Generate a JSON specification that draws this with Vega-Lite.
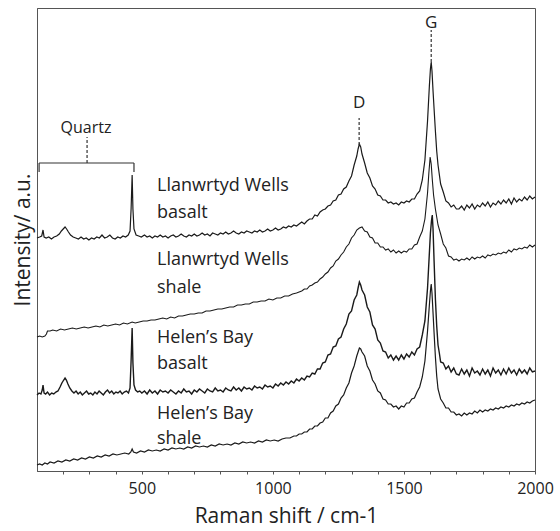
{
"$schema": "https://vega.github.io/schema/vega-lite/v6.json",
"width": 498, "height": 463,
"autosize": {"type": "none"},
"padding": {"left": 37, "top": 8, "right": 25, "bottom": 60},
"background": "white",
"config": {"view": {"stroke": "#555", "strokeWidth": 1}, "font": "Open Sans"},
"datasets": {
"lwb": [
{"x":100,"y":233},{"x":110,"y":234},{"x":118,"y":235},{"x":123,"y":241},{"x":127,"y":234},{"x":135,"y":233},{"x":145,"y":234},{"x":155,"y":232},{"x":165,"y":234},{"x":175,"y":235},{"x":185,"y":237},{"x":193,"y":240},{"x":200,"y":242},{"x":207,"y":244},{"x":213,"y":242},{"x":220,"y":239},{"x":228,"y":236},{"x":238,"y":234},{"x":248,"y":233},{"x":258,"y":232},{"x":268,"y":234},{"x":278,"y":232},{"x":288,"y":233},{"x":298,"y":231},{"x":308,"y":233},{"x":318,"y":232},{"x":328,"y":234},{"x":338,"y":233},{"x":348,"y":236},{"x":358,"y":233},{"x":368,"y":234},{"x":378,"y":236},{"x":388,"y":233},{"x":398,"y":232},{"x":408,"y":234},{"x":418,"y":233},{"x":428,"y":235},{"x":438,"y":234},{"x":448,"y":236},{"x":455,"y":240},{"x":459,"y":262},{"x":463,"y":296},{"x":466,"y":262},{"x":470,"y":242},{"x":478,"y":236},{"x":488,"y":235},{"x":498,"y":234},{"x":510,"y":236},{"x":520,"y":234},{"x":530,"y":235},{"x":540,"y":233},{"x":550,"y":235},{"x":560,"y":234},{"x":570,"y":236},{"x":580,"y":234},{"x":590,"y":235},{"x":600,"y":233},{"x":610,"y":235},{"x":620,"y":236},{"x":630,"y":234},{"x":640,"y":235},{"x":650,"y":237},{"x":660,"y":235},{"x":670,"y":234},{"x":680,"y":236},{"x":690,"y":235},{"x":700,"y":237},{"x":710,"y":235},{"x":720,"y":236},{"x":730,"y":238},{"x":740,"y":236},{"x":750,"y":237},{"x":760,"y":235},{"x":770,"y":238},{"x":780,"y":237},{"x":790,"y":236},{"x":800,"y":238},{"x":810,"y":237},{"x":820,"y":239},{"x":830,"y":237},{"x":840,"y":238},{"x":850,"y":240},{"x":860,"y":238},{"x":870,"y":237},{"x":880,"y":239},{"x":890,"y":238},{"x":900,"y":240},{"x":910,"y":239},{"x":920,"y":238},{"x":930,"y":240},{"x":940,"y":239},{"x":950,"y":241},{"x":960,"y":239},{"x":970,"y":240},{"x":980,"y":242},{"x":990,"y":240},{"x":1000,"y":241},{"x":1010,"y":243},{"x":1020,"y":241},{"x":1030,"y":242},{"x":1040,"y":244},{"x":1050,"y":243},{"x":1060,"y":245},{"x":1070,"y":244},{"x":1080,"y":246},{"x":1090,"y":245},{"x":1100,"y":247},{"x":1110,"y":249},{"x":1120,"y":247},{"x":1130,"y":250},{"x":1140,"y":252},{"x":1150,"y":252},{"x":1160,"y":256},{"x":1170,"y":255},{"x":1180,"y":259},{"x":1190,"y":261},{"x":1200,"y":262},{"x":1210,"y":265},{"x":1220,"y":266},{"x":1230,"y":270},{"x":1240,"y":271},{"x":1250,"y":276},{"x":1260,"y":277},{"x":1270,"y":282},{"x":1280,"y":284},{"x":1290,"y":290},{"x":1300,"y":295},{"x":1310,"y":306},{"x":1320,"y":315},{"x":1325,"y":322},{"x":1330,"y":327},{"x":1335,"y":324},{"x":1340,"y":317},{"x":1350,"y":308},{"x":1360,"y":298},{"x":1370,"y":293},{"x":1380,"y":285},{"x":1390,"y":282},{"x":1400,"y":276},{"x":1410,"y":275},{"x":1420,"y":271},{"x":1430,"y":271},{"x":1440,"y":268},{"x":1450,"y":269},{"x":1460,"y":267},{"x":1470,"y":268},{"x":1480,"y":266},{"x":1490,"y":269},{"x":1500,"y":268},{"x":1510,"y":270},{"x":1520,"y":269},{"x":1530,"y":272},{"x":1540,"y":272},{"x":1550,"y":277},{"x":1560,"y":280},{"x":1570,"y":291},{"x":1580,"y":311},{"x":1590,"y":350},{"x":1597,"y":385},{"x":1601,"y":402},{"x":1604,"y":409},{"x":1607,"y":400},{"x":1611,"y":380},{"x":1615,"y":362},{"x":1620,"y":340},{"x":1625,"y":320},{"x":1630,"y":306},{"x":1640,"y":287},{"x":1650,"y":279},{"x":1660,"y":270},{"x":1670,"y":268},{"x":1680,"y":264},{"x":1690,"y":266},{"x":1700,"y":262},{"x":1710,"y":262},{"x":1720,"y":265},{"x":1730,"y":261},{"x":1740,"y":266},{"x":1750,"y":263},{"x":1760,"y":267},{"x":1770,"y":262},{"x":1780,"y":266},{"x":1790,"y":264},{"x":1800,"y":268},{"x":1810,"y":265},{"x":1820,"y":269},{"x":1830,"y":264},{"x":1840,"y":268},{"x":1850,"y":266},{"x":1860,"y":270},{"x":1870,"y":267},{"x":1880,"y":271},{"x":1890,"y":268},{"x":1900,"y":272},{"x":1910,"y":267},{"x":1920,"y":273},{"x":1930,"y":269},{"x":1940,"y":272},{"x":1950,"y":270},{"x":1960,"y":274},{"x":1970,"y":271},{"x":1980,"y":275},{"x":1990,"y":272},{"x":2000,"y":274}
],
"lws": [
{"x":100,"y":134},{"x":110,"y":135},{"x":120,"y":134},{"x":130,"y":135},{"x":136,"y":137},{"x":140,"y":140},{"x":150,"y":140},{"x":160,"y":141},{"x":175,"y":140},{"x":190,"y":142},{"x":205,"y":141},{"x":220,"y":142},{"x":235,"y":143},{"x":250,"y":142},{"x":265,"y":143},{"x":280,"y":144},{"x":295,"y":143},{"x":310,"y":144},{"x":325,"y":145},{"x":340,"y":144},{"x":355,"y":146},{"x":370,"y":145},{"x":385,"y":146},{"x":400,"y":147},{"x":415,"y":146},{"x":430,"y":148},{"x":445,"y":147},{"x":463,"y":149},{"x":475,"y":148},{"x":490,"y":149},{"x":505,"y":150},{"x":520,"y":150},{"x":535,"y":151},{"x":550,"y":151},{"x":565,"y":152},{"x":580,"y":153},{"x":595,"y":152},{"x":610,"y":154},{"x":625,"y":153},{"x":640,"y":155},{"x":655,"y":155},{"x":670,"y":156},{"x":685,"y":157},{"x":700,"y":157},{"x":715,"y":158},{"x":730,"y":158},{"x":745,"y":160},{"x":760,"y":160},{"x":775,"y":161},{"x":790,"y":162},{"x":805,"y":162},{"x":820,"y":163},{"x":835,"y":164},{"x":850,"y":164},{"x":865,"y":166},{"x":880,"y":166},{"x":895,"y":167},{"x":910,"y":167},{"x":925,"y":169},{"x":940,"y":169},{"x":955,"y":170},{"x":970,"y":170},{"x":985,"y":172},{"x":1000,"y":171},{"x":1015,"y":173},{"x":1030,"y":173},{"x":1045,"y":175},{"x":1060,"y":175},{"x":1075,"y":177},{"x":1090,"y":178},{"x":1100,"y":179},{"x":1110,"y":180},{"x":1120,"y":182},{"x":1130,"y":182},{"x":1140,"y":185},{"x":1150,"y":186},{"x":1160,"y":188},{"x":1170,"y":189},{"x":1180,"y":192},{"x":1190,"y":194},{"x":1200,"y":197},{"x":1210,"y":199},{"x":1220,"y":203},{"x":1230,"y":205},{"x":1240,"y":210},{"x":1250,"y":212},{"x":1260,"y":216},{"x":1270,"y":219},{"x":1280,"y":224},{"x":1290,"y":227},{"x":1300,"y":233},{"x":1310,"y":236},{"x":1320,"y":241},{"x":1330,"y":243},{"x":1340,"y":244},{"x":1350,"y":240},{"x":1360,"y":239},{"x":1370,"y":234},{"x":1380,"y":233},{"x":1390,"y":228},{"x":1400,"y":228},{"x":1410,"y":224},{"x":1420,"y":224},{"x":1430,"y":221},{"x":1440,"y":222},{"x":1450,"y":219},{"x":1460,"y":221},{"x":1470,"y":218},{"x":1480,"y":220},{"x":1490,"y":218},{"x":1500,"y":220},{"x":1510,"y":219},{"x":1520,"y":222},{"x":1530,"y":222},{"x":1540,"y":226},{"x":1550,"y":227},{"x":1560,"y":234},{"x":1570,"y":240},{"x":1580,"y":252},{"x":1590,"y":278},{"x":1595,"y":298},{"x":1600,"y":314},{"x":1604,"y":307},{"x":1608,"y":292},{"x":1613,"y":276},{"x":1620,"y":262},{"x":1630,"y":246},{"x":1640,"y":237},{"x":1650,"y":227},{"x":1660,"y":223},{"x":1670,"y":215},{"x":1680,"y":214},{"x":1690,"y":211},{"x":1700,"y":212},{"x":1710,"y":210},{"x":1720,"y":212},{"x":1730,"y":211},{"x":1740,"y":213},{"x":1750,"y":211},{"x":1760,"y":214},{"x":1770,"y":212},{"x":1780,"y":214},{"x":1790,"y":213},{"x":1800,"y":215},{"x":1810,"y":213},{"x":1820,"y":216},{"x":1830,"y":215},{"x":1840,"y":217},{"x":1850,"y":216},{"x":1860,"y":218},{"x":1870,"y":217},{"x":1880,"y":219},{"x":1890,"y":218},{"x":1900,"y":221},{"x":1910,"y":219},{"x":1920,"y":222},{"x":1930,"y":221},{"x":1940,"y":223},{"x":1950,"y":222},{"x":1960,"y":224},{"x":1970,"y":223},{"x":1980,"y":226},{"x":1990,"y":224},{"x":2000,"y":226}
],
"hbb": [
{"x":100,"y":76},{"x":108,"y":78},{"x":115,"y":77},{"x":120,"y":81},{"x":123,"y":86},{"x":127,"y":78},{"x":133,"y":77},{"x":140,"y":79},{"x":148,"y":76},{"x":156,"y":78},{"x":164,"y":77},{"x":172,"y":79},{"x":180,"y":80},{"x":188,"y":84},{"x":195,"y":88},{"x":202,"y":91},{"x":207,"y":93},{"x":212,"y":91},{"x":218,"y":87},{"x":225,"y":83},{"x":233,"y":80},{"x":241,"y":78},{"x":249,"y":80},{"x":257,"y":77},{"x":265,"y":79},{"x":273,"y":76},{"x":281,"y":78},{"x":289,"y":80},{"x":297,"y":77},{"x":305,"y":78},{"x":313,"y":76},{"x":321,"y":79},{"x":329,"y":77},{"x":337,"y":80},{"x":345,"y":78},{"x":353,"y":76},{"x":361,"y":79},{"x":369,"y":81},{"x":377,"y":78},{"x":385,"y":80},{"x":393,"y":77},{"x":401,"y":79},{"x":409,"y":78},{"x":417,"y":80},{"x":425,"y":77},{"x":433,"y":79},{"x":441,"y":80},{"x":449,"y":78},{"x":455,"y":83},{"x":459,"y":110},{"x":463,"y":143},{"x":466,"y":108},{"x":470,"y":86},{"x":476,"y":81},{"x":484,"y":79},{"x":492,"y":80},{"x":500,"y":78},{"x":510,"y":80},{"x":520,"y":77},{"x":530,"y":81},{"x":540,"y":78},{"x":550,"y":80},{"x":560,"y":77},{"x":570,"y":81},{"x":580,"y":79},{"x":590,"y":80},{"x":600,"y":78},{"x":610,"y":81},{"x":620,"y":79},{"x":630,"y":77},{"x":640,"y":80},{"x":650,"y":78},{"x":660,"y":82},{"x":670,"y":79},{"x":680,"y":80},{"x":690,"y":77},{"x":700,"y":81},{"x":710,"y":79},{"x":720,"y":82},{"x":730,"y":80},{"x":740,"y":78},{"x":750,"y":82},{"x":760,"y":80},{"x":770,"y":79},{"x":780,"y":83},{"x":790,"y":80},{"x":800,"y":81},{"x":810,"y":79},{"x":820,"y":83},{"x":830,"y":81},{"x":840,"y":80},{"x":850,"y":84},{"x":860,"y":81},{"x":870,"y":83},{"x":880,"y":80},{"x":890,"y":84},{"x":900,"y":82},{"x":910,"y":83},{"x":920,"y":81},{"x":930,"y":85},{"x":940,"y":83},{"x":950,"y":84},{"x":960,"y":82},{"x":970,"y":86},{"x":980,"y":84},{"x":990,"y":85},{"x":1000,"y":83},{"x":1010,"y":87},{"x":1020,"y":85},{"x":1030,"y":88},{"x":1040,"y":86},{"x":1050,"y":89},{"x":1060,"y":87},{"x":1070,"y":90},{"x":1080,"y":88},{"x":1090,"y":92},{"x":1100,"y":90},{"x":1110,"y":93},{"x":1120,"y":91},{"x":1130,"y":95},{"x":1140,"y":94},{"x":1150,"y":98},{"x":1160,"y":97},{"x":1170,"y":102},{"x":1180,"y":102},{"x":1190,"y":108},{"x":1200,"y":109},{"x":1210,"y":116},{"x":1220,"y":117},{"x":1230,"y":124},{"x":1240,"y":125},{"x":1250,"y":132},{"x":1260,"y":134},{"x":1270,"y":142},{"x":1280,"y":147},{"x":1290,"y":157},{"x":1300,"y":160},{"x":1310,"y":171},{"x":1320,"y":176},{"x":1325,"y":183},{"x":1330,"y":189},{"x":1335,"y":186},{"x":1340,"y":181},{"x":1350,"y":176},{"x":1360,"y":164},{"x":1370,"y":159},{"x":1380,"y":146},{"x":1390,"y":142},{"x":1400,"y":131},{"x":1410,"y":128},{"x":1420,"y":120},{"x":1430,"y":119},{"x":1440,"y":113},{"x":1450,"y":116},{"x":1460,"y":111},{"x":1470,"y":115},{"x":1480,"y":111},{"x":1490,"y":116},{"x":1500,"y":112},{"x":1510,"y":117},{"x":1520,"y":114},{"x":1530,"y":119},{"x":1540,"y":116},{"x":1550,"y":122},{"x":1560,"y":124},{"x":1570,"y":136},{"x":1580,"y":150},{"x":1590,"y":183},{"x":1597,"y":218},{"x":1601,"y":238},{"x":1605,"y":250},{"x":1608,"y":256},{"x":1611,"y":242},{"x":1615,"y":210},{"x":1620,"y":172},{"x":1625,"y":145},{"x":1630,"y":126},{"x":1635,"y":118},{"x":1640,"y":109},{"x":1650,"y":108},{"x":1660,"y":102},{"x":1670,"y":105},{"x":1680,"y":99},{"x":1690,"y":103},{"x":1700,"y":97},{"x":1710,"y":96},{"x":1720,"y":102},{"x":1730,"y":97},{"x":1740,"y":101},{"x":1750,"y":95},{"x":1760,"y":103},{"x":1770,"y":98},{"x":1780,"y":100},{"x":1790,"y":96},{"x":1800,"y":102},{"x":1810,"y":97},{"x":1820,"y":101},{"x":1830,"y":95},{"x":1840,"y":103},{"x":1850,"y":98},{"x":1860,"y":101},{"x":1870,"y":96},{"x":1880,"y":102},{"x":1890,"y":97},{"x":1900,"y":103},{"x":1910,"y":98},{"x":1920,"y":101},{"x":1930,"y":96},{"x":1940,"y":102},{"x":1950,"y":98},{"x":1960,"y":101},{"x":1970,"y":97},{"x":1980,"y":103},{"x":1990,"y":99},{"x":2000,"y":100}
],
"hbs": [
{"x":100,"y":6},{"x":110,"y":7},{"x":120,"y":6},{"x":130,"y":8},{"x":140,"y":7},{"x":150,"y":9},{"x":165,"y":8},{"x":180,"y":10},{"x":195,"y":9},{"x":210,"y":11},{"x":225,"y":10},{"x":240,"y":12},{"x":255,"y":11},{"x":270,"y":13},{"x":285,"y":12},{"x":300,"y":14},{"x":315,"y":13},{"x":330,"y":15},{"x":345,"y":14},{"x":360,"y":16},{"x":375,"y":15},{"x":390,"y":17},{"x":405,"y":16},{"x":420,"y":17},{"x":435,"y":18},{"x":450,"y":17},{"x":458,"y":19},{"x":463,"y":22},{"x":468,"y":19},{"x":480,"y":18},{"x":495,"y":20},{"x":510,"y":19},{"x":525,"y":21},{"x":540,"y":20},{"x":555,"y":21},{"x":570,"y":20},{"x":585,"y":22},{"x":600,"y":21},{"x":615,"y":23},{"x":630,"y":22},{"x":645,"y":23},{"x":660,"y":22},{"x":675,"y":24},{"x":690,"y":23},{"x":705,"y":25},{"x":720,"y":24},{"x":735,"y":25},{"x":750,"y":24},{"x":765,"y":26},{"x":780,"y":25},{"x":795,"y":27},{"x":810,"y":26},{"x":825,"y":27},{"x":840,"y":26},{"x":855,"y":28},{"x":870,"y":27},{"x":885,"y":29},{"x":900,"y":28},{"x":915,"y":29},{"x":930,"y":28},{"x":945,"y":30},{"x":960,"y":29},{"x":975,"y":31},{"x":990,"y":30},{"x":1005,"y":31},{"x":1020,"y":30},{"x":1035,"y":32},{"x":1050,"y":33},{"x":1065,"y":33},{"x":1080,"y":35},{"x":1090,"y":35},{"x":1100,"y":37},{"x":1110,"y":37},{"x":1120,"y":39},{"x":1130,"y":39},{"x":1140,"y":42},{"x":1150,"y":42},{"x":1160,"y":45},{"x":1170,"y":45},{"x":1180,"y":48},{"x":1190,"y":49},{"x":1200,"y":53},{"x":1210,"y":53},{"x":1220,"y":58},{"x":1230,"y":60},{"x":1240,"y":65},{"x":1250,"y":67},{"x":1260,"y":73},{"x":1270,"y":76},{"x":1280,"y":83},{"x":1290,"y":88},{"x":1300,"y":98},{"x":1310,"y":105},{"x":1320,"y":115},{"x":1325,"y":119},{"x":1330,"y":123},{"x":1335,"y":122},{"x":1340,"y":119},{"x":1350,"y":115},{"x":1360,"y":105},{"x":1370,"y":100},{"x":1380,"y":91},{"x":1390,"y":87},{"x":1400,"y":80},{"x":1410,"y":78},{"x":1420,"y":72},{"x":1430,"y":71},{"x":1440,"y":67},{"x":1450,"y":67},{"x":1460,"y":64},{"x":1470,"y":65},{"x":1480,"y":62},{"x":1490,"y":65},{"x":1500,"y":64},{"x":1510,"y":68},{"x":1520,"y":68},{"x":1530,"y":72},{"x":1540,"y":73},{"x":1550,"y":79},{"x":1560,"y":84},{"x":1570,"y":94},{"x":1580,"y":110},{"x":1590,"y":140},{"x":1597,"y":166},{"x":1601,"y":180},{"x":1604,"y":187},{"x":1607,"y":178},{"x":1611,"y":158},{"x":1615,"y":138},{"x":1620,"y":114},{"x":1625,"y":95},{"x":1630,"y":82},{"x":1640,"y":72},{"x":1650,"y":68},{"x":1660,"y":63},{"x":1670,"y":63},{"x":1680,"y":59},{"x":1690,"y":59},{"x":1700,"y":56},{"x":1710,"y":57},{"x":1720,"y":55},{"x":1730,"y":58},{"x":1740,"y":56},{"x":1750,"y":58},{"x":1760,"y":57},{"x":1770,"y":60},{"x":1780,"y":58},{"x":1790,"y":61},{"x":1800,"y":59},{"x":1810,"y":61},{"x":1820,"y":60},{"x":1830,"y":62},{"x":1840,"y":61},{"x":1850,"y":63},{"x":1860,"y":62},{"x":1870,"y":64},{"x":1880,"y":63},{"x":1890,"y":65},{"x":1900,"y":64},{"x":1910,"y":66},{"x":1920,"y":65},{"x":1930,"y":67},{"x":1940,"y":66},{"x":1950,"y":68},{"x":1960,"y":67},{"x":1970,"y":69},{"x":1980,"y":68},{"x":1990,"y":70},{"x":2000,"y":71}
],
"labels": [
{"x":558,"y":280,"t":"Llanwrtyd Wells"},{"x":558,"y":253,"t":"basalt"},
{"x":558,"y":206,"t":"Llanwrtyd Wells"},{"x":558,"y":178,"t":"shale"},
{"x":558,"y":128,"t":"Helen’s Bay"},{"x":558,"y":102,"t":"basalt"},
{"x":558,"y":52,"t":"Helen’s Bay"},{"x":558,"y":27,"t":"shale"}
],
"quartzText": [{"x":287,"y":338,"t":"Quartz"}],
"peakText": [{"x":1329,"y":363,"t":"D"},{"x":1604,"y":443,"t":"G"}],
"dashes": [{"x":291,"y":308,"y2":334},{"x":1329,"y":326,"y2":353},{"x":1604,"y":409,"y2":441}],
"bracketH": [{"x":108,"x2":470,"y":308}],
"bracketV": [{"x":108,"y":299,"y2":308},{"x":470,"y":299,"y2":308}]
},
"encoding": {
"x": {"field": "x", "type": "quantitative",
 "scale": {"domain": [100, 2000], "nice": false, "zero": false},
 "axis": {"title": "Raman shift / cm-1", "titleFont": "Open Sans", "titleFontSize": 21, "titleFontWeight": "normal", "titleColor": "#222", "titlePadding": 9,
  "values": [200,300,400,500,600,700,800,900,1000,1100,1200,1300,1400,1500,1600,1700,1800,1900,2000],
  "labelExpr": "datum.value % 500 === 0 ? datum.label : ''", "format": "d",
  "labelFont": "Open Sans", "labelFontSize": 16, "labelColor": "#222", "labelPadding": 6, "labelFlush": false, "labelOverlap": false,
  "tickSize": 3, "tickColor": "#555", "domainColor": "#555", "grid": false}},
"y": {"field": "y", "type": "quantitative",
 "scale": {"domain": [0, 463], "nice": false, "zero": false},
 "axis": {"title": "Intensity/ a.u.", "titleFont": "Open Sans", "titleFontSize": 21, "titleFontWeight": "normal", "titleColor": "#222", "titlePadding": 4,
  "labels": false, "ticks": false, "grid": false, "domainColor": "#555"}}
},
"layer": [
{"data": {"name": "lwb"}, "mark": {"type": "line", "color": "#1a1a1a", "strokeWidth": 1.2}},
{"data": {"name": "lws"}, "mark": {"type": "line", "color": "#1a1a1a", "strokeWidth": 1.1}},
{"data": {"name": "hbb"}, "mark": {"type": "line", "color": "#1a1a1a", "strokeWidth": 1.4}},
{"data": {"name": "hbs"}, "mark": {"type": "line", "color": "#1a1a1a", "strokeWidth": 1.2}},
{"data": {"name": "dashes"}, "mark": {"type": "rule", "color": "#333", "strokeWidth": 1.2, "strokeDash": [3, 2]}, "encoding": {"y2": {"field": "y2"}}},
{"data": {"name": "bracketH"}, "mark": {"type": "rule", "color": "#333", "strokeWidth": 1.2}, "encoding": {"x2": {"field": "x2"}}},
{"data": {"name": "bracketV"}, "mark": {"type": "rule", "color": "#333", "strokeWidth": 1.2}, "encoding": {"y2": {"field": "y2"}}},
{"data": {"name": "labels"}, "mark": {"type": "text", "align": "left", "baseline": "alphabetic", "font": "Open Sans", "fontSize": 18, "color": "#222"}, "encoding": {"text": {"field": "t"}}},
{"data": {"name": "quartzText"}, "mark": {"type": "text", "align": "center", "baseline": "alphabetic", "font": "Open Sans", "fontSize": 16, "color": "#222"}, "encoding": {"text": {"field": "t"}}},
{"data": {"name": "peakText"}, "mark": {"type": "text", "align": "center", "baseline": "alphabetic", "font": "Open Sans", "fontSize": 17, "color": "#222"}, "encoding": {"text": {"field": "t"}}}
]
}
